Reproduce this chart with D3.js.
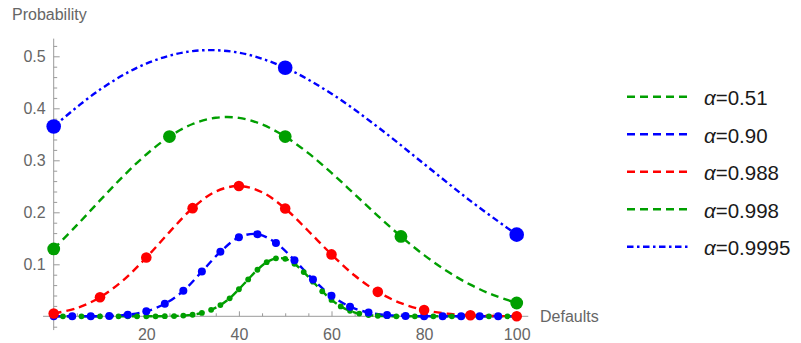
<!DOCTYPE html>
<html>
<head>
<meta charset="utf-8">
<script src="https://cdn.jsdelivr.net/npm/d3@7"></script>
<style>
  html, body { margin: 0; padding: 0; background: #fff; }
  svg { display: block; font-family: "Liberation Sans", Arial, sans-serif; }
</style>
</head>
<body>
<svg id="chart" width="801" height="343"></svg>
<script>
// ---------- data ----------
const seriesLabels = ["α=0.51", "α=0.90", "α=0.988", "α=0.998", "α=0.9995"];
const seriesColors = ["#009f00", "#0000ff", "#ff0000", "#009f00", "#0000ff"];

// α=0.51 : points every 2 defaults (line goes through the points)
const xA051 = d3.range(0, 101, 2);
const yA051 = [0,0,0,0,0,0,0,0,0,0,0,0,
  0.0002,0.0005,0.0013,0.003,0.0065,0.0125,0.0215,0.0345,0.052,0.071,0.0895,0.104,
  0.1115,0.1105,0.101,0.085,0.0665,0.048,0.0315,0.019,0.0105,0.0052,0.0023,0.0009,0.0003,
  0,0,0,0,0,0,0,0,0,0,0,0,0,0];

// α=0.90 : points every 4 defaults
const xA090 = d3.range(0, 101, 4);
const yA090 = [0, 0, 0.0001, 0.0007, 0.003, 0.0095, 0.024, 0.049, 0.086, 0.124, 0.152, 0.158,
  0.141, 0.108, 0.071, 0.0395, 0.0185, 0.0072, 0.0025, 0.0007, 0.0002, 0, 0, 0, 0, 0];

// α=0.988 : curve samples every 5, points every 10
const xA0988Line = d3.range(0, 101, 5);
const yA0988Line = [0.0053, 0.0159, 0.0365, 0.0692, 0.113, 0.162, 0.208, 0.240, 0.2505, 0.2386,
  0.2072, 0.164, 0.119, 0.0784, 0.047, 0.0252, 0.0121, 0.0051, 0.0019, 0.0006, 0.0001];
const xA0988Pts = d3.range(0, 101, 10);
const yA0988Pts = [0.0053, 0.0365, 0.113, 0.208, 0.2505, 0.2072, 0.119, 0.047, 0.0121, 0.0019, 0.0001];

// α=0.998 : curve samples every 5, points every 25
const xA0998Line = d3.range(0, 101, 5);
const yA0998Line = [0.1296, 0.1752, 0.2228, 0.2693, 0.3112, 0.3456, 0.3698, 0.3818, 0.3816, 0.3689,
  0.3456, 0.3137, 0.2758, 0.2347, 0.1933, 0.1536, 0.1177, 0.0866, 0.0608, 0.0406, 0.0256];
const xA0998Pts = [0, 25, 50, 75, 100];
const yA0998Pts = [0.1296, 0.3456, 0.3456, 0.1536, 0.0256];

// α=0.9995 : curve samples every 10, points every 50
const xA09995Line = d3.range(0, 101, 10);
const yA09995Line = [0.365, 0.436, 0.486, 0.510, 0.507, 0.478, 0.428, 0.364, 0.293, 0.222, 0.157];
const xA09995Pts = [0, 50, 100];
const yA09995Pts = [0.365, 0.478, 0.157];

const xTicks = [20, 40, 60, 80, 100];
const yTicks = [0.1, 0.2, 0.3, 0.4, 0.5];
const xTitle = "Defaults";
const yTitle = "Probability";

// ---------- build series ----------
const zip = (xs, ys) => xs.map((x, i) => ({ x, y: ys[i] }));
const series = [
  { label: seriesLabels[0], color: seriesColors[0], dash: "8,5", r: 2.9,
    line: zip(xA051, yA051), pts: zip(xA051, yA051) },
  { label: seriesLabels[1], color: seriesColors[1], dash: "8,5", r: 4.0,
    line: zip(xA090, yA090), pts: zip(xA090, yA090) },
  { label: seriesLabels[2], color: seriesColors[2], dash: "8,5", r: 5.3,
    line: zip(xA0988Line, yA0988Line), pts: zip(xA0988Pts, yA0988Pts) },
  { label: seriesLabels[3], color: seriesColors[3], dash: "8,5", r: 6.4,
    line: zip(xA0998Line, yA0998Line), pts: zip(xA0998Pts, yA0998Pts) },
  { label: seriesLabels[4], color: seriesColors[4], dash: "6.5,3.5,2.5,3.5", r: 7.3,
    line: zip(xA09995Line, yA09995Line), pts: zip(xA09995Pts, yA09995Pts) }
];

// ---------- scales ----------
const svg = d3.select("#chart");
const x = d3.scaleLinear().domain([0, 100]).range([53.7, 516.7]);
const y = d3.scaleLinear().domain([0, 0.5]).range([316.3, 56.3]);

const axisColor = "#9a9a9a";
const labelColor = "#666666";

// ---------- axes ----------
const gx = svg.append("g").attr("transform", `translate(0,${y(0)})`);
gx.append("line").attr("x1", x(-2.3)).attr("x2", x(102.5)).attr("stroke", axisColor);
const xMinor = d3.range(5, 101, 5).filter(v => v % 20 !== 0);
gx.append("g").call(d3.axisBottom(x).tickValues(xMinor).tickSize(-3).tickFormat(""))
  .call(g => g.select(".domain").remove())
  .call(g => g.selectAll("line").attr("stroke", axisColor));
gx.append("g").call(d3.axisBottom(x).tickValues(xTicks).tickSize(-5).tickPadding(12.5).tickFormat(d3.format("d")))
  .call(g => g.select(".domain").remove())
  .call(g => g.selectAll("line").attr("stroke", axisColor))
  .call(g => g.selectAll("text").attr("fill", labelColor).style("font-size", "16px")
      .style("font-family", "'Liberation Sans', Arial, sans-serif"));

const gy = svg.append("g").attr("transform", `translate(${x(0)},0)`);
gy.append("line").attr("y1", y(0.534)).attr("y2", y(-0.0265)).attr("stroke", axisColor);
const yMinor = d3.range(-1, 27).map(i => i * 0.02).filter(v => Math.abs(v * 10 - Math.round(v * 10)) > 1e-6);
gy.append("g").call(d3.axisLeft(y).tickValues(yMinor).tickSize(-3.5).tickFormat(""))
  .call(g => g.select(".domain").remove())
  .call(g => g.selectAll("line").attr("stroke", axisColor));
gy.append("g").call(d3.axisLeft(y).tickValues(yTicks).tickSize(-6).tickPadding(8).tickFormat(d3.format(".1f")))
  .call(g => g.select(".domain").remove())
  .call(g => g.selectAll("line").attr("stroke", axisColor))
  .call(g => g.selectAll("text").attr("fill", labelColor).style("font-size", "16px")
      .style("font-family", "'Liberation Sans', Arial, sans-serif"));

svg.append("text").attr("x", 12).attr("y", 19.5).attr("fill", labelColor)
  .style("font-size", "16px").text(yTitle);
svg.append("text").attr("x", 540).attr("y", 322.3).attr("fill", labelColor)
  .style("font-size", "16px").text(xTitle);

// ---------- lines ----------
const lineGen = d3.line().x(d => x(d.x)).y(d => y(d.y)).curve(d3.curveCatmullRom.alpha(0.5));
const plot = svg.append("g");
series.forEach(s => {
  plot.append("path").datum(s.line)
    .attr("d", lineGen)
    .attr("fill", "none")
    .attr("stroke", s.color)
    .attr("stroke-width", 2.4)
    .attr("stroke-dasharray", s.dash);
});
// ---------- points ----------
series.forEach(s => {
  plot.append("g").selectAll("circle").data(s.pts).join("circle")
    .attr("cx", d => x(d.x)).attr("cy", d => y(d.y)).attr("r", s.r)
    .attr("fill", s.color);
});

// ---------- legend ----------
const legend = svg.append("g");
series.forEach((s, i) => {
  const cy = 96.7 + i * 37.5;
  legend.append("line").attr("x1", 627).attr("x2", 688.5).attr("y1", cy).attr("y2", cy)
    .attr("stroke", s.color).attr("stroke-width", 2.4).attr("stroke-dasharray", s.dash);
  const t = legend.append("text").attr("x", 704).attr("y", cy + 8.3)
    .attr("fill", "#1a1a1a").style("font-size", "20.5px");
  t.append("tspan").style("font-style", "italic").text(s.label.slice(0, 1));
  t.append("tspan").text(s.label.slice(1));
});
</script>
</body>
</html>
